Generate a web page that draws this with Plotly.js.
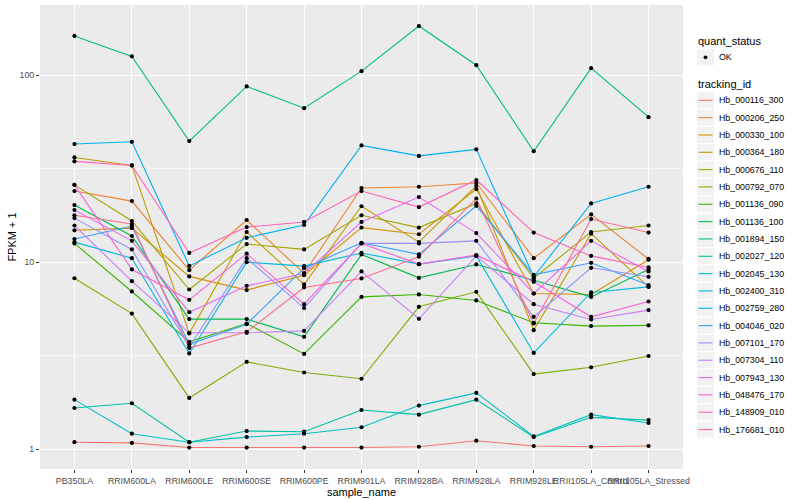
<!DOCTYPE html>
<html><head><meta charset="utf-8">
<script src="https://cdn.plot.ly/plotly-3.0.1.min.js"></script>
<style>html,body{margin:0;padding:0;background:#fff}#chart{width:800px;height:500px}</style>
</head><body><div id="chart"></div>
<script>
const samples = ["PB350LA","RRIM600LA","RRIM600LE","RRIM600SE","RRIM600PE","RRIM901LA","RRIM928BA","RRIM928LA","RRIM928LE","RRII105LA_Control","RRII105LA_Stressed"];
const trackingIds = ["Hb_000116_300","Hb_000206_250","Hb_000330_100","Hb_000364_180","Hb_000676_110","Hb_000792_070","Hb_001136_090","Hb_001136_100","Hb_001894_150","Hb_002027_120","Hb_002045_130","Hb_002400_310","Hb_002759_280","Hb_004046_020","Hb_007101_170","Hb_007304_110","Hb_007943_130","Hb_048476_170","Hb_148909_010","Hb_176681_010"];

// FPKM + 1 per sample, one array per tracking id
const Hb_000116_300 = [1.09, 1.08, 1.02, 1.02, 1.02, 1.02, 1.03, 1.11, 1.04, 1.03, 1.04];
const Hb_000206_250 = [24.0, 21.2, 9.06, 16.8, 8.70, 24.9, 25.3, 26.5, 10.5, 18.0, 10.4];
const Hb_000330_100 = [14.8, 15.2, 8.39, 7.09, 8.52, 15.3, 14.1, 24.6, 6.80, 6.72, 10.3];
const Hb_000364_180 = [36.3, 32.9, 4.16, 14.5, 7.60, 19.9, 12.8, 25.6, 4.33, 14.2, 7.38];
const Hb_000676_110 = [25.9, 16.6, 7.14, 12.5, 11.7, 17.8, 15.3, 20.6, 8.21, 14.5, 15.7];
const Hb_000792_070 = [8.2, 5.31, 1.88, 2.93, 2.57, 2.38, 5.77, 6.94, 2.52, 2.74, 3.15];
const Hb_001136_090 = [12.6, 6.97, 3.75, 4.70, 3.23, 6.52, 6.72, 6.24, 4.74, 4.55, 4.59];
const Hb_001136_100 = [20.2, 13.8, 4.96, 4.96, 3.99, 11.0, 8.24, 9.72, 8.01, 6.52, 9.14];
const Hb_001894_150 = [162, 126, 44.4, 87, 66.6, 105, 183, 113, 39.2, 109, 59.6];
const Hb_002027_120 = [1.66, 1.76, 1.09, 1.25, 1.24, 1.62, 1.53, 1.84, 1.16, 1.48, 1.43];
const Hb_002045_130 = [1.84, 1.21, 1.09, 1.16, 1.21, 1.31, 1.71, 2.00, 1.17, 1.53, 1.38];
const Hb_002400_310 = [12.8, 10.5, 3.25, 10.0, 9.52, 11.2, 9.76, 10.8, 3.27, 6.89, 7.38];
const Hb_002759_280 = [42.8, 44.0, 9.55, 13.5, 15.8, 42.1, 37.0, 40.1, 8.35, 20.6, 25.3];
const Hb_004046_020 = [13.3, 15.6, 3.64, 4.66, 9.29, 12.7, 11.0, 20.0, 8.55, 9.92, 7.54];
const Hb_007101_170 = [17.2, 11.7, 3.52, 10.5, 5.68, 12.6, 12.6, 13.0, 5.10, 9.33, 8.35];
const Hb_007304_110 = [15.7, 7.91, 4.19, 4.19, 4.29, 8.92, 4.98, 10.8, 5.96, 4.94, 5.54];
const Hb_007943_130 = [19.0, 13.0, 5.40, 7.47, 8.70, 16.4, 22.3, 14.3, 6.80, 13.0, 8.92];
const Hb_048476_170 = [25.9, 9.14, 6.29, 11.1, 5.96, 12.6, 9.76, 10.9, 7.85, 5.10, 6.16];
const Hb_148909_010 = [34.6, 32.9, 11.2, 15.4, 16.4, 24.0, 19.7, 27.5, 14.4, 10.8, 9.37];
const Hb_176681_010 = [17.8, 16.0, 3.47, 4.24, 7.32, 8.18, 10.7, 21.9, 4.70, 17.0, 14.4];

const seriesValues = [Hb_000116_300, Hb_000206_250, Hb_000330_100, Hb_000364_180, Hb_000676_110, Hb_000792_070, Hb_001136_090, Hb_001136_100, Hb_001894_150, Hb_002027_120, Hb_002045_130, Hb_002400_310, Hb_002759_280, Hb_004046_020, Hb_007101_170, Hb_007304_110, Hb_007943_130, Hb_048476_170, Hb_148909_010, Hb_176681_010];
const quantStatus = ["OK"];
const yTicks = [1, 10, 100];

const colors = ["#F8766D","#EA8331","#D89000","#C09B00","#A3A500","#7CAE00","#39B600","#00BB4E","#00BF7D","#00C1A3","#00BFC4","#00BAE0","#00B0F6","#35A2FF","#9590FF","#C77CFF","#E76BF3","#FA62DB","#FF62BC","#FF6C91"];

const FONT = "Liberation Sans, Arial, sans-serif";
const W = 800, H = 500;
const M = {l: 40, r: 117, t: 5, b: 31};
const plotW = W - M.l - M.r, plotH = H - M.t - M.b;
const pxX = p => (p - M.l) / plotW;          // pixel -> paper (legend placement)
const pxY = p => (H - M.b - p) / plotH;

const traces = [];
trackingIds.forEach((id, k) => {
  traces.push({
    type: "scatter", mode: "lines", x: samples, y: seriesValues[k], name: id,
    line: {color: colors[k], width: 1.1}, showlegend: false, hoverinfo: "x+y+name"
  });
});
// points drawn over every line, coloured by quant_status
const px = [], py = [];
seriesValues.forEach(v => v.forEach((val, i) => { px.push(samples[i]); py.push(val); }));
traces.push({
  type: "scatter", mode: "markers", x: px, y: py, name: quantStatus[0],
  marker: {color: "#000", size: 4.2, symbol: "circle"}, showlegend: false
});

// ggplot-style legend (key boxes + labels), built from the names and colours
const shapes = [], annotations = [];
const keyL = 697, keyR = 714, keyH = 17.33, textX = 717;
function title(text, yc) {
  annotations.push({xref: "paper", yref: "paper", x: pxX(keyL - 1), y: pxY(yc), xanchor: "left", yanchor: "middle",
    text: text, showarrow: false, font: {size: 11, color: "#000", family: FONT}});
}
function label(text, yc) {
  annotations.push({xref: "paper", yref: "paper", x: pxX(textX), y: pxY(yc), xanchor: "left", yanchor: "middle",
    text: text, showarrow: false, font: {size: 8.8, color: "#000", family: FONT}});
}
function keyBox(yc) {
  shapes.push({type: "rect", xref: "paper", yref: "paper", x0: pxX(keyL), x1: pxX(keyR),
    y0: pxY(yc - keyH / 2 + 0.6), y1: pxY(yc + keyH / 2 - 0.6), fillcolor: "#F2F2F2", line: {width: 0}, layer: "below"});
}
title("quant_status", 40.7);
quantStatus.forEach((q, i) => {
  const yc = 57.3 + i * keyH;
  keyBox(yc);
  shapes.push({type: "circle", xref: "paper", yref: "paper", x0: pxX(703.6), x1: pxX(707.4), y0: pxY(59.2), y1: pxY(55.4),
    fillcolor: "#000", line: {width: 0}});
  label(q, yc);
});
title("tracking_id", 84.3);
trackingIds.forEach((id, k) => {
  const yc = 100.3 + k * keyH;
  keyBox(yc);
  shapes.push({type: "line", xref: "paper", yref: "paper", x0: pxX(698.5), x1: pxX(712.5), y0: pxY(yc), y1: pxY(yc),
    line: {color: colors[k], width: 1.1}});
  label(id, yc);
});

const layout = {
  width: W, height: H,
  margin: M,
  paper_bgcolor: "#FFFFFF", plot_bgcolor: "#EBEBEB",
  font: {family: FONT, size: 9, color: "#000"},
  showlegend: false,
  shapes: shapes, annotations: annotations,
  xaxis: {
    type: "category", categoryorder: "array", categoryarray: samples,
    range: [-0.6, samples.length - 0.4],
    showgrid: true, gridcolor: "#FFFFFF", gridwidth: 1.07,
    zeroline: false, showline: false,
    ticks: "outside", ticklen: 3, tickcolor: "#333333", tickwidth: 1.07,
    tickangle: 0, tickfont: {size: 8.8, color: "#4D4D4D", family: FONT},
    title: {text: "sample_name", font: {size: 11, color: "#000", family: FONT}, standoff: 0},
    automargin: false
  },
  yaxis: {
    type: "log", range: [-0.106, 2.375],
    tickvals: yTicks, ticktext: yTicks.map(String),
    showgrid: true, gridcolor: "#FFFFFF", gridwidth: 1.07,
    minor: {tickvals: [Math.sqrt(10), Math.sqrt(1000)], showgrid: true, gridcolor: "#FFFFFF", gridwidth: 0.53, ticks: ""},
    zeroline: false, showline: false,
    ticks: "outside", ticklen: 3, tickcolor: "#333333", tickwidth: 1.07,
    tickfont: {size: 8.8, color: "#4D4D4D", family: FONT},
    title: {text: "FPKM + 1", font: {size: 11, color: "#000", family: FONT}, standoff: 0},
    automargin: false
  }
};

Plotly.newPlot("chart", traces, layout, {displayModeBar: false, staticPlot: true});
</script>
</body></html>
